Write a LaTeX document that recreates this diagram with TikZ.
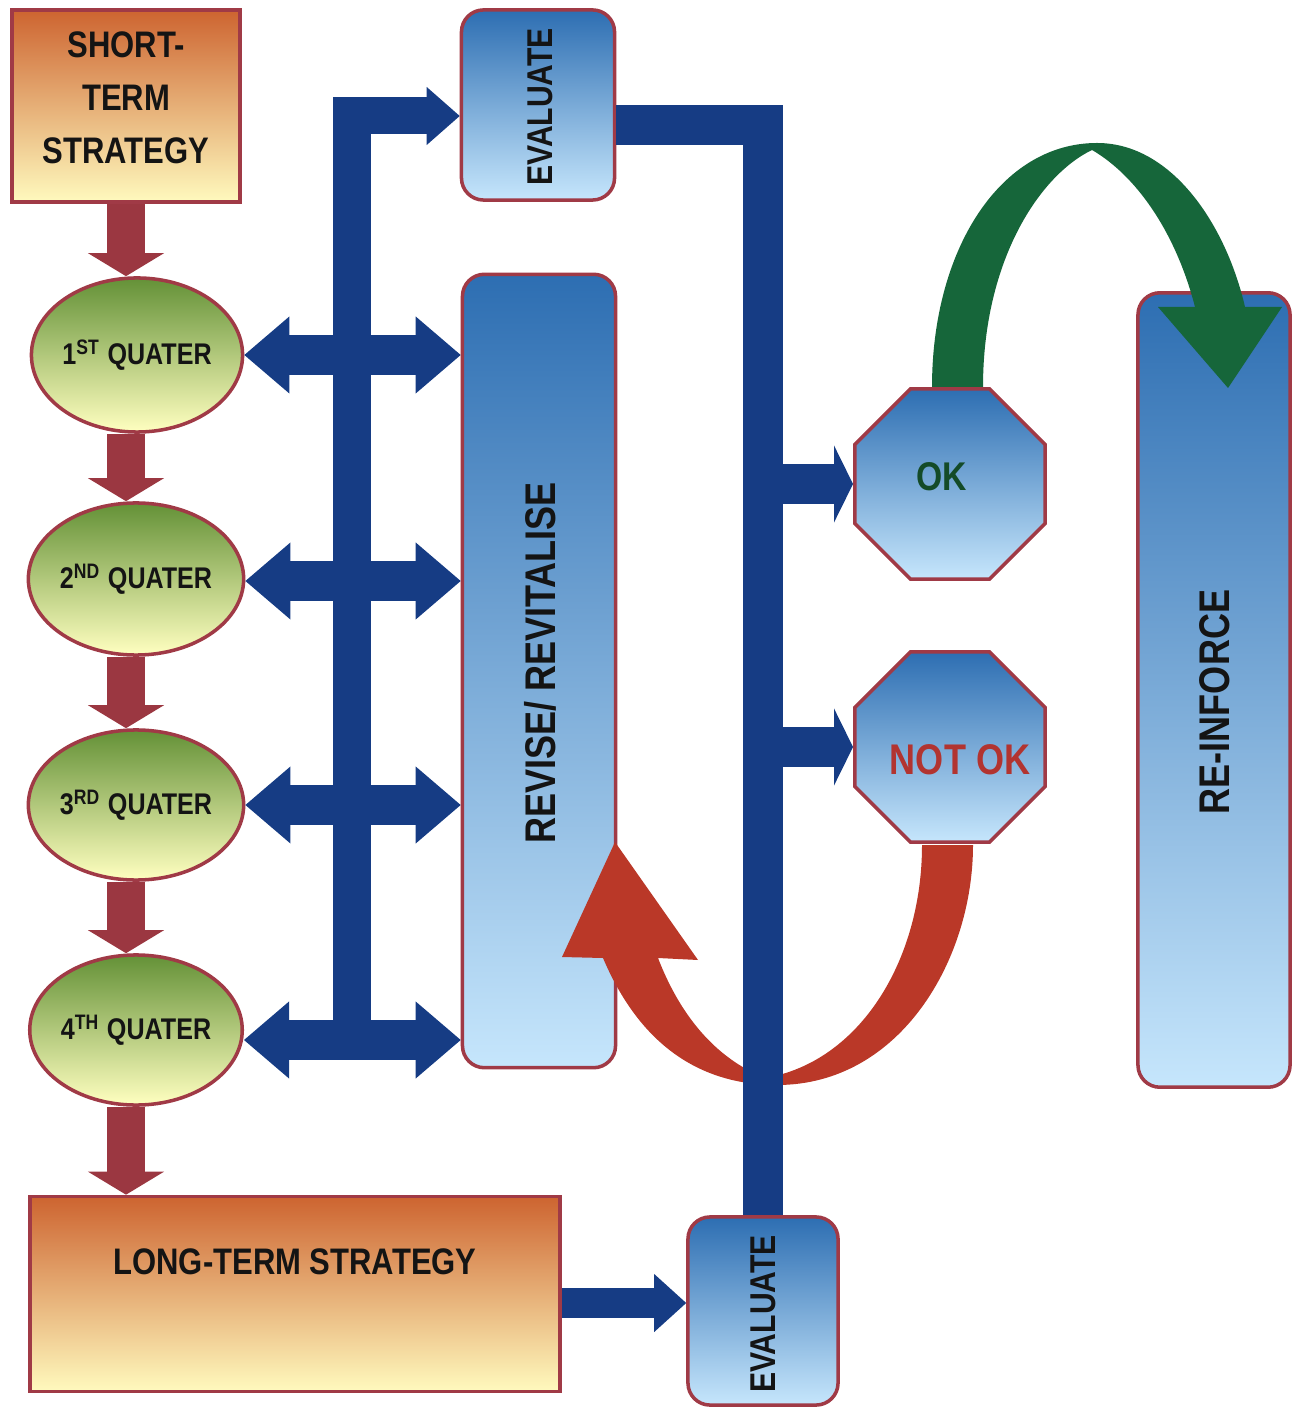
\documentclass[tikz,border=0pt]{standalone}
\usepackage{fontspec}
\setmainfont{Liberation Sans}[FakeStretch=0.84]
\usetikzlibrary{shapes.geometric,arrows.meta,calc}

\definecolor{edge}{RGB}{160,58,70}
\definecolor{brick}{RGB}{155,55,65}
\definecolor{navy}{RGB}{22,60,132}
\definecolor{blTop}{RGB}{45,110,178}
\definecolor{blMid}{RGB}{110,165,220}
\definecolor{blBot}{RGB}{198,230,252}
\definecolor{orTop}{RGB}{205,100,48}
\definecolor{orMid}{RGB}{243,192,120}
\definecolor{orBot}{RGB}{255,250,190}
\definecolor{grTop}{RGB}{100,145,55}
\definecolor{grMid}{RGB}{195,215,115}
\definecolor{grBot}{RGB}{255,255,192}
\definecolor{okgreen}{RGB}{20,75,40}
\definecolor{notred}{RGB}{178,52,48}
\definecolor{arcgreen}{RGB}{22,102,58}
\definecolor{arcred}{RGB}{186,56,40}
\definecolor{ink}{RGB}{20,20,20}

\newcommand\lblfont[1]{\fontsize{#1}{1.4\dimexpr#1pt\relax}\selectfont\bfseries}

\begin{document}
\begin{tikzpicture}[x=0.01cm,y=-0.01cm,
  box/.style={draw=edge, line width=1pt, inner sep=0pt},
  orangebox/.style={box, rectangle, top color=orTop, middle color=orMid, bottom color=orBot},
  bluebox/.style={box, rectangle, rounded corners=0.22cm, top color=blTop, middle color=blMid, bottom color=blBot},
  quarter/.style={box, ellipse, top color=grTop, middle color=grMid, bottom color=grBot,
    text=ink, font=\lblfont{8.5}},
  octo/.style={box, regular polygon, regular polygon sides=8, minimum size=2.06cm,
    top color=blTop, middle color=blMid, bottom color=blBot},
  lbl/.style={text=ink, inner sep=0pt},
  downarrow/.style={draw=brick, line width=0.38cm,
    -{Triangle[width=0.76cm,length=0.23cm,line width=0pt]}},
  twoway/.style={draw=navy, line width=0.40cm,
    {Triangle[width=0.77cm,length=0.45cm,line width=0pt]}-{Triangle[width=0.77cm,length=0.45cm,line width=0pt]}},
  feed/.style={draw=navy, line width=0.40cm,
    -{Triangle[width=0.77cm,length=0.19cm,line width=0pt]}},
  bar/.style={draw=navy, line width=0.40cm},
]
\useasboundingbox (0,0) rectangle (1298,1407);

% ---------- boxes ----------
\node[orangebox, minimum width=2.28cm, minimum height=1.92cm] (st) at (126,106) {};
\node[quarter, minimum width=2.05cm, minimum height=1.54cm] (q1) at (137,355) {1\textsuperscript{ST} QUATER};
\node[quarter, minimum width=2.09cm, minimum height=1.52cm] (q2) at (136,579) {2\textsuperscript{ND} QUATER};
\node[quarter, minimum width=2.10cm, minimum height=1.50cm] (q3) at (136,805) {3\textsuperscript{RD} QUATER};
\node[quarter, minimum width=2.10cm, minimum height=1.50cm] (q4) at (136,1030) {4\textsuperscript{TH} QUATER};
\node[orangebox, minimum width=5.30cm, minimum height=1.95cm] (lt) at (295,1294) {};

\node[bluebox, minimum width=1.53cm, minimum height=1.90cm] (evT) at (538,105) {};
\node[bluebox, minimum width=1.53cm, minimum height=7.93cm] (rev) at (539,671) {};
\node[bluebox, minimum width=1.50cm, minimum height=1.88cm] (evB) at (763,1311) {};
\node[bluebox, minimum width=1.52cm, minimum height=7.94cm] (rei) at (1214,690) {};

\node[octo] (ok) at (950,484) {};
\node[octo] (nok) at (950,747) {};

% ---------- labels ----------
\node[lbl, align=center, font=\fontsize{10.5}{15.1}\selectfont\bfseries] (sttext) at (126,98) {SHORT-\\TERM\\STRATEGY};
\node[lbl, font=\lblfont{10.5}] (lttext) at (295,1262) {LONG-TERM STRATEGY};
\node[lbl, rotate=90, font=\lblfont{10.2}] (evTtext) at (540,107) {EVALUATE};
\node[lbl, rotate=90, font=\lblfont{12.2}] (revtext) at (540,663) {REVISE/ REVITALISE};
\node[lbl, rotate=90, font=\lblfont{10.2}] (evBtext) at (763,1314) {EVALUATE};
\node[lbl, rotate=90, font=\lblfont{12.2}] (reitext) at (1215,702) {RE-INFORCE};
\node[lbl, text=okgreen, font=\lblfont{11.4}] (oktext) at (942,477) {OK};
\node[lbl, text=notred, font=\lblfont{12.2}] (noktext) at (960,760) {NOT OK};

% ---------- strategy chain ----------
\draw[downarrow] (st.south) -- (st.south |- q1.north);
\draw[downarrow] (q1.south -| st.south) -- (q2.north -| st.south);
\draw[downarrow] (q2.south -| st.south) -- (q3.north -| st.south);
\draw[downarrow] (q3.south -| st.south) -- (q4.north -| st.south);
\draw[downarrow] (q4.south -| st.south) -- (lt.north -| st.south);

% ---------- curved arrows ----------
\fill[arcgreen] (932,387) .. controls (932,250) and (1000,143) .. (1097,143)
  .. controls (1172,143) and (1226,225) .. (1245,307)
  -- (1282,307) -- (1228,388) -- (1158,307) -- (1195,307)
  .. controls (1175,230) and (1135,175) .. (1092,150)
  .. controls (1040,175) and (983,260) .. (983,387) -- cycle;

\fill[arcred] (562,957) -- (615,842) -- (698,960) -- (658,958)
  .. controls (680,1015) and (715,1058) .. (765,1078)
  .. controls (860,1062) and (922,960) .. (922,845)
  -- (973,845)
  .. controls (973,960) and (900,1085) .. (777,1085)
  .. controls (700,1085) and (640,1045) .. (603,958) -- cycle;

% ---------- quarter feedback bus ----------
\coordinate (busL) at (352,0);
\coordinate (q2lvl) at ($(q2.east)+(0,2)$);
\coordinate (q4lvl) at ($(q4.east)+(0,10)$);
\draw[twoway] (q1.east) -- (q1.east -| rev.west);
\draw[twoway] (q2lvl) -- (q2lvl -| rev.west);
\draw[twoway] (q3.east) -- (q3.east -| rev.west);
\draw[twoway] (q4lvl) -- (q4lvl -| rev.west);
\coordinate (evTin) at ($(evT.west)+(0,11)$);
\draw[draw=navy, line width=0.37cm,
  -{Triangle[width=0.58cm,length=0.33cm,line width=0pt]}]
  (busL |- q4lvl) |- (evTin);

% ---------- evaluation bus ----------
\coordinate (evTout) at ($(evT.east)+(0,20)$);
\draw[bar] (evTout) -| (evB.north);
\draw[feed] (ok.west -| evB.north) -- (ok.west);
\draw[feed] (nok.west -| evB.north) -- (nok.west);
\coordinate (ltout) at ($(evB.west)+(0,-8)$);
\draw[draw=navy, line width=0.30cm,
  -{Triangle[width=0.58cm,length=0.32cm,line width=0pt]}]
  (lt.east |- ltout) -- (ltout);
\end{tikzpicture}
\end{document}
